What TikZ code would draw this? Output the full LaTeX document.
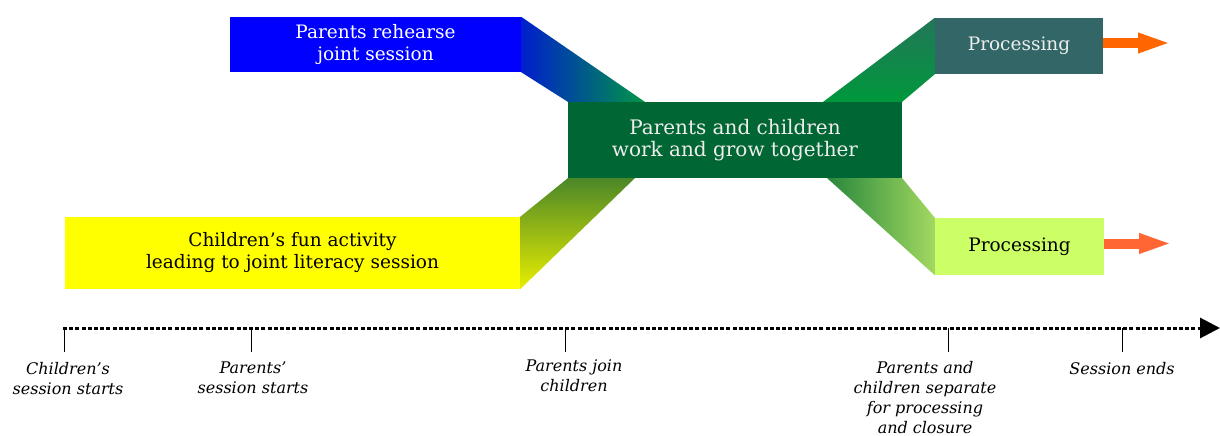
\documentclass[tikz,border=0pt]{standalone}
\usepackage{fontspec}
\setmainfont{DejaVu Serif}
\usetikzlibrary{positioning,calc,arrows.meta,backgrounds}

\definecolor{rehearseblue}{RGB}{0,0,255}
\definecolor{funyellow}{RGB}{255,255,0}
\definecolor{togethergreen}{RGB}{0,102,51}
\definecolor{procteal}{RGB}{51,102,102}
\definecolor{proclime}{RGB}{204,255,102}
\definecolor{outorange}{RGB}{255,102,0}
\definecolor{outorangeb}{RGB}{255,102,51}

\begin{document}
\begin{tikzpicture}[x=1pt,y=-1pt,
	box/.style={inner sep=0pt,align=center,font=\fontsize{18.5}{22}\selectfont},
	stamp/.style={inner sep=0pt,align=center,font=\itshape\fontsize{16}{20}\selectfont},
	tick/.style={line width=0.8pt},
	timeline/.style={line width=3pt,dash pattern=on 4pt off 2.2pt,-{Triangle[length=20pt,width=20pt]}},
	outarrow/.style={line width=10pt,-{Triangle[length=33pt,width=18pt]}}]

	\useasboundingbox (0,0) rectangle (1220,436);

	% the five boxes
	\node[box,fill=rehearseblue,text=white,minimum width=291pt,minimum height=55pt] 	(rehearse)	at (375.5,44.5)	{Parents rehearse\\joint session};
	\node[box,fill=funyellow,minimum width=455pt,minimum height=72pt] 				(fun)		at (292.5,253)	{Children's fun activity\\leading to joint literacy session};
	\node[box,fill=togethergreen,text=white!93!black,minimum width=334pt,minimum height=76pt,font=\fontsize{20}{22}\selectfont]	(together)	at (735,140)	{Parents and children\\work and grow together};
	\node[box,fill=procteal,text=white!93!black,minimum width=168pt,minimum height=56pt] 		(procA)		at (1019,46)	{\raisebox{3pt}{Processing}};
	\node[box,fill=proclime,minimum width=169pt,minimum height=57pt] 				(procB)		at (1019.5,246.5)	{Processing};

	% shaded bands behind the boxes
	\begin{scope}[on background layer]
		\shade[left color={rgb,255:red,0;green,30;blue,205},right color={rgb,255:red,0;green,150;blue,70}]
			(rehearse.north east) -- ($(together.north west)+(77,0)$) -- (together.north west) -- (rehearse.south east) -- cycle;
		\shade[top color={rgb,255:red,75;green,135;blue,40},bottom color={rgb,255:red,232;green,238;blue,0}]
			(fun.north east) -- (together.south west) -- ($(together.south west)+(67,0)$) -- (fun.south east) -- cycle;
		\shade[top color={rgb,255:red,35;green,118;blue,88},bottom color={rgb,255:red,0;green,152;blue,60}]
			($(together.north east)+(-79,0)$) -- (procA.north west) -- (procA.south west) -- (together.north east) -- cycle;
		\shade[left color={rgb,255:red,40;green,135;blue,60},right color={rgb,255:red,162;green,216;blue,96}]
			(together.south east) -- (procB.north west) -- (procB.south west) -- ($(together.south east)+(-75,0)$) -- cycle;
	\end{scope}

	% outgoing arrows
	\draw[outarrow,outorange]	([yshift=3pt]procA.east) -- ++(68,0);
	\draw[outarrow,outorangeb]	([yshift=3pt]procB.east) -- ++(68,0);

	% time line
	\coordinate (start)	at (63,328);
	\coordinate (tip)	at (1220,328);
	\coordinate (t1)	at (64,328);
	\coordinate (t2)	at (251,328);
	\coordinate (t3)	at (565,328);
	\coordinate (t4)	at (948,328);
	\coordinate (t5)	at (1122,328);

	\draw[timeline] (start) -- (tip);

	\coordinate[below=24pt of t1] (b1);
	\coordinate[below=24pt of t2] (b2);
	\coordinate[below=24pt of t3] (b3);
	\coordinate[below=24pt of t4] (b4);
	\coordinate[below=24pt of t5] (b5);

	\draw[tick] (t1) -- (b1);
	\draw[tick] (t2) -- (b2);
	\draw[tick] (t3) -- (b3);
	\draw[tick] (t4) -- (b4);
	\draw[tick] (t5) -- (b5);

	\node[stamp,below=10pt of b1,xshift=4pt]	(l1)	{Children's\\session starts};
	\node[stamp,below=10pt of b2,xshift=2pt]	(l2)	{Parents'\\session starts};
	\node[stamp,below=8pt of b3,xshift=9pt]	(l3)	{Parents join\\children};
	\node[stamp,below=9pt of b4,xshift=-23pt]	(l4)	{Parents and\\children separate\\for processing\\and closure};
	\node[stamp,below=10pt of b5]			(l5)	{Session ends};
\end{tikzpicture}
\end{document}
